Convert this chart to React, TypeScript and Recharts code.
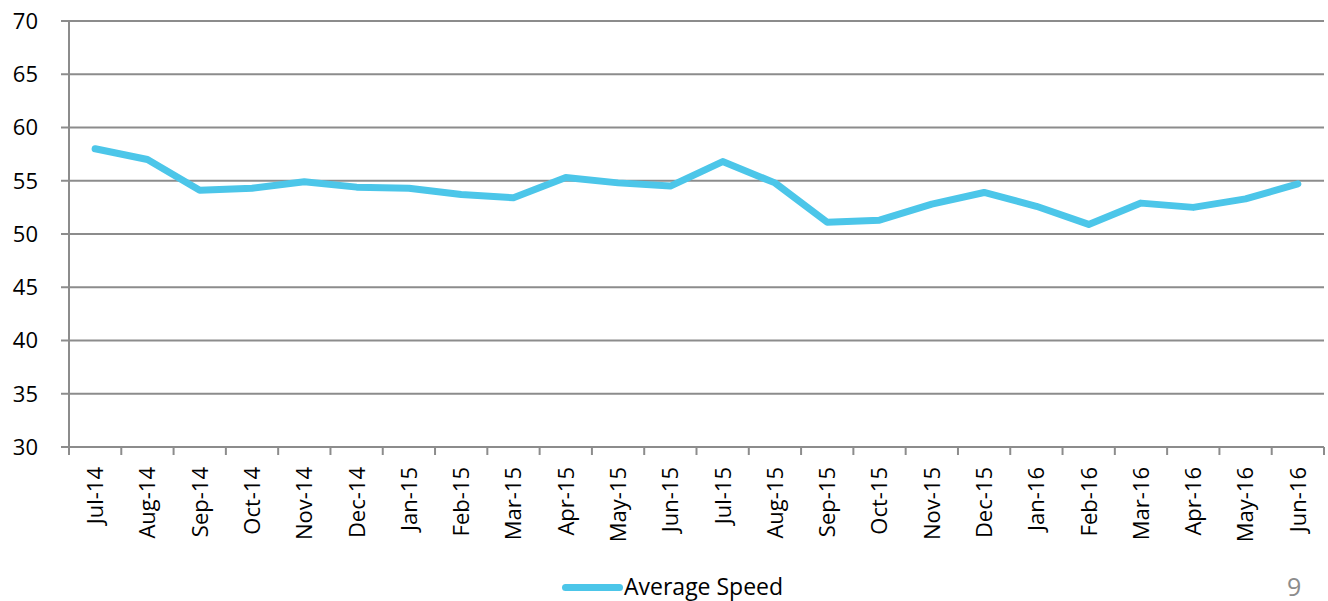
import { LineChart, Line, XAxis, YAxis, CartesianGrid, Legend } from "recharts";

const months = [
  "Jul-14", "Aug-14", "Sep-14", "Oct-14", "Nov-14", "Dec-14",
  "Jan-15", "Feb-15", "Mar-15", "Apr-15", "May-15", "Jun-15",
  "Jul-15", "Aug-15", "Sep-15", "Oct-15", "Nov-15", "Dec-15",
  "Jan-16", "Feb-16", "Mar-16", "Apr-16", "May-16", "Jun-16",
];

const averageSpeed = [
  58.0, 57.0, 54.1, 54.3, 54.9, 54.4,
  54.3, 53.7, 53.4, 55.3, 54.8, 54.5,
  56.8, 54.8, 51.1, 51.3, 52.8, 53.9,
  52.6, 50.9, 52.9, 52.5, 53.3, 54.7,
];

const yTicks = [30, 35, 40, 45, 50, 55, 60, 65, 70];
const boundaryTicks = months.map((_, i) => i).concat(months.length);

const data = months.map((month, i) => ({
  month,
  pos: i + 0.5,
  speed: averageSpeed[i],
}));

const FONT = "'Open Sans', 'Liberation Sans', sans-serif";
const LINE_COLOR = "#4cc6e9";
const GRID = "#8c8c8c";

// axis ids: "a" sits right under the plot (tick marks), "b" below it (month labels)
const BOUNDS = "a";
const LABELS = "b";

function MonthTick({ x, y, payload }: { x?: number; y?: number; payload?: { value: string } }) {
  return (
    <g transform={`translate(${x},${y})`}>
      <text
        transform="rotate(-90)"
        x={-4}
        dy="0.36em"
        textAnchor="end"
        fill="#000"
        fontSize={22}
        fontFamily={FONT}
      >
        {payload?.value}
      </text>
    </g>
  );
}

function LegendContent() {
  return (
    <div style={{ position: "relative", width: 1328, height: 39, fontFamily: FONT }}>
      <div
        style={{
          position: "absolute",
          left: 562,
          top: 22,
          width: 61,
          height: 7,
          borderRadius: 4,
          background: LINE_COLOR,
        }}
      />
      <div style={{ position: "absolute", left: 624, top: 8, fontSize: 23, color: "#000" }}>
        Average Speed
      </div>
      <div style={{ position: "absolute", left: 1287, top: 7, fontSize: 25, color: "#8c8c8c" }}>
        9
      </div>
    </div>
  );
}

export default function App() {
  return (
    <div style={{ position: "absolute", left: 0, top: 0, width: 1328, height: 601, background: "#fff" }}>
      <LineChart width={1328} height={601} data={data} margin={{ top: 21, right: 4, bottom: 0, left: 0 }}>
        <CartesianGrid horizontal vertical={false} stroke={GRID} strokeWidth={2} xAxisId={BOUNDS} />
        <XAxis
          xAxisId={BOUNDS}
          type="number"
          dataKey="pos"
          domain={[0, months.length]}
          ticks={boundaryTicks}
          interval={0}
          tickFormatter={() => ""}
          tickSize={8}
          tickMargin={0}
          height={8}
          axisLine={{ stroke: GRID, strokeWidth: 2 }}
          tickLine={{ stroke: GRID, strokeWidth: 2 }}
        />
        <XAxis
          xAxisId={LABELS}
          dataKey="month"
          scale="band"
          interval={0}
          height={107}
          axisLine={false}
          tickLine={false}
          tick={<MonthTick />}
        />
        <YAxis
          domain={[30, 70]}
          ticks={yTicks}
          width={69}
          tickSize={8}
          tickMargin={23}
          interval={0}
          axisLine={{ stroke: GRID, strokeWidth: 2 }}
          tickLine={{ stroke: GRID, strokeWidth: 2 }}
          tick={{ fill: "#000", fontSize: 22, fontFamily: FONT }}
        />
        <Legend verticalAlign="bottom" content={<LegendContent />} />
        <Line
          xAxisId={LABELS}
          dataKey="speed"
          stroke="none"
          dot={false}
          legendType="none"
          isAnimationActive={false}
        />
        <Line
          xAxisId={BOUNDS}
          dataKey="speed"
          name="Average Speed"
          stroke={LINE_COLOR}
          strokeWidth={7}
          strokeLinecap="round"
          strokeLinejoin="round"
          dot={false}
          isAnimationActive={false}
        />
      </LineChart>
    </div>
  );
}
